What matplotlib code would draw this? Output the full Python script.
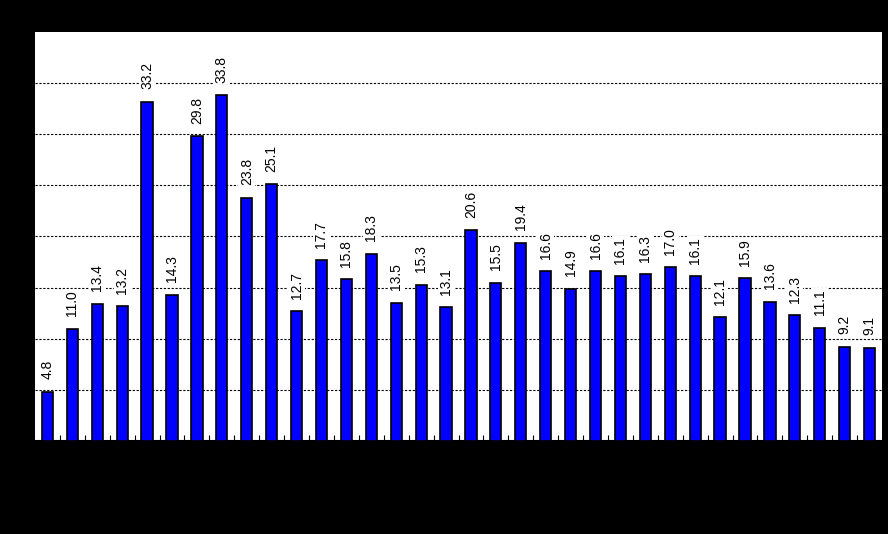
import matplotlib.pyplot as plt
import numpy as np

plt.rcParams['font.family'] = ['Liberation Sans', 'DejaVu Sans']

# values, left to right
values = [4.8, 11.0, 13.4, 13.2, 33.2, 14.3, 29.8, 33.8, 23.8, 25.1,
          12.7, 17.7, 15.8, 18.3, 13.5, 15.3, 13.1, 20.6, 15.5, 19.4,
          16.6, 14.9, 16.6, 16.1, 16.3, 17.0, 16.1, 12.1, 15.9, 13.6,
          12.3, 11.1, 9.2, 9.1]
labels = ['%.1f' % v for v in values]
x = np.arange(len(values))

f = plt.figure(figsize=(8.88, 5.34), dpi=100, facecolor='black')
ax = f.add_axes([35/888, 93/534, 847/888, 409/534])
ax.set_facecolor('white')

ax.bar(x, values, width=0.45, color='#0000ff', edgecolor='black', linewidth=1.2, zorder=3)
# value labels sit on a white box, so the dashed grid stops around them
for xi, v, lab in zip(x, values, labels):
    ax.annotate(lab, (xi, v), xytext=(0, 9), textcoords='offset points',
                rotation=90, ha='center', va='bottom', fontsize=10, color='black',
                zorder=4, bbox=dict(facecolor='white', edgecolor='none', pad=1))

ax.set_xlim(-0.5, len(values) - 0.5)
ax.set_ylim(0, 40)
ax.set_yticks(np.arange(5, 40, 5))
ax.yaxis.grid(True, linestyle=(0, (2, 1.5)), color='black', linewidth=0.8, zorder=0)
ax.set_axisbelow(True)
ax.set_xticks(x[:-1] + 0.5)
ax.tick_params(axis='x', direction='in', length=4, color='black', labelbottom=False)
ax.tick_params(axis='y', length=0, labelleft=False)
for s in ['top', 'right', 'left']:
    ax.spines[s].set_visible(False)
ax.spines['bottom'].set_color('black')
ax.spines['bottom'].set_linewidth(1.5)

f.savefig('out.png', dpi=100, facecolor='black')
